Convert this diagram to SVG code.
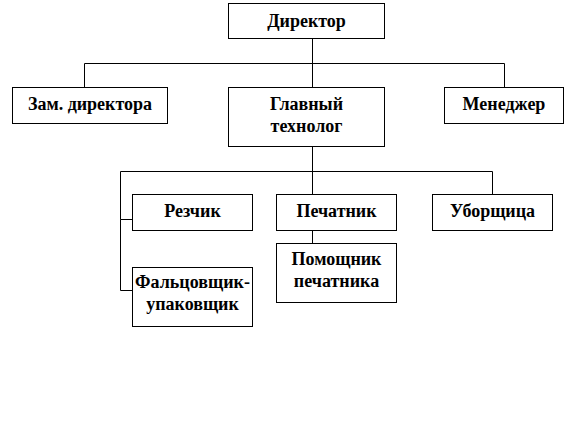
<svg xmlns="http://www.w3.org/2000/svg" width="567" height="435" viewBox="0 0 567 435">
<style>
.box{fill:#fff;stroke:#000;stroke-width:1}
.con{fill:none;stroke:#000;stroke-width:1}
.t{font-family:'Liberation Serif','Times New Roman','DejaVu Serif',serif;font-weight:700;font-size:18px;text-anchor:middle;fill:#000}
</style>
<rect width="567" height="435" fill="#fff"/>
<g id="connectors">
<path class="con" d="M312.5 38.5V87.5M84.5 87.5V63.5H504.5V87.5M312.5 146.5V194.5M132.5 219.5H120.5V171.5H492.5V194.5M120.5 219.5V290.5H132.5M312.5 230.5V243.5"/>
</g>
<g id="director"><rect class="box" x="228.5" y="3.5" width="156" height="35"/><text class="t" x="306.5" y="27">Директор</text></g>
<g id="deputy"><rect class="box" x="12.5" y="87.5" width="155" height="36"/><text class="t" x="90" y="110">Зам. директора</text></g>
<g id="chief-technologist"><rect class="box" x="228.5" y="87.5" width="156" height="59"/><text class="t" x="306.5" y="110">Главный</text><text class="t" x="306.5" y="132">технолог</text></g>
<g id="manager"><rect class="box" x="444.5" y="87.5" width="119" height="36"/><text class="t" x="504" y="110">Менеджер</text></g>
<g id="cutter"><rect class="box" x="132.5" y="194.5" width="120" height="36"/><text class="t" x="192.5" y="217">Резчик</text></g>
<g id="printer"><rect class="box" x="276.5" y="194.5" width="120" height="36"/><text class="t" x="336.5" y="217">Печатник</text></g>
<g id="cleaner"><rect class="box" x="432.5" y="194.5" width="120" height="36"/><text class="t" x="492.5" y="217">Уборщица</text></g>
<g id="printer-assistant"><rect class="box" x="276.5" y="243.5" width="120" height="59"/><text class="t" x="336.5" y="265">Помощник</text><text class="t" x="336.5" y="287">печатника</text></g>
<g id="folder-packer"><rect class="box" x="132.5" y="267.5" width="120" height="59"/><text class="t" x="192.5" y="288">Фальцовщик-</text><text class="t" x="192.5" y="310">упаковщик</text></g>
</svg>
